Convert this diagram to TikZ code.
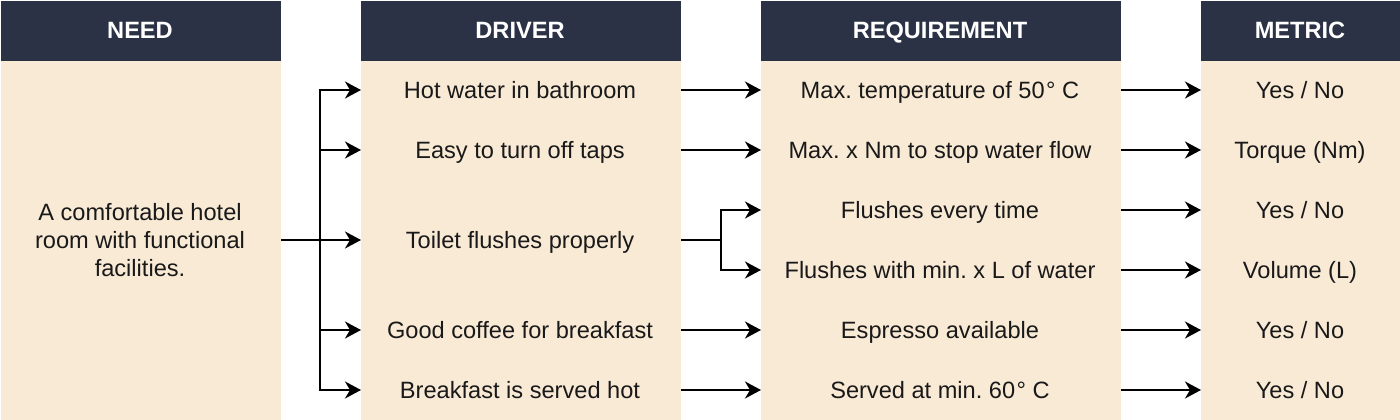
\documentclass[tikz,border=0pt]{standalone}
\usepackage{fontspec}
\setmainfont{Liberation Sans}
\usetikzlibrary{arrows.meta}
\definecolor{hdr}{HTML}{2B3245}
\definecolor{bodyc}{HTML}{F9EAD6}
\frenchspacing
\tikzset{
  hdrbox/.style={fill=hdr, draw=none, minimum height=60pt, inner sep=0pt},
  hdrtxt/.style={text=white, font=\fontsize{23.6}{28}\selectfont\bfseries, inner sep=0pt, anchor=base},
  lbl/.style={font=\fontsize{23.6}{28}\selectfont, text=black!90, inner sep=0pt, align=center, anchor=base},
  conn/.style={line width=2pt, -{Triangle[length=16pt,width=17pt,inset=5pt]}},
  plain/.style={line width=2pt}
}
\begin{document}
\begin{tikzpicture}[x=1pt,y=-1pt]
\useasboundingbox (0,0) rectangle (1400,420);
% column backgrounds
\fill[bodyc] (1,60) rectangle (281,420);
\fill[bodyc] (361,60) rectangle (681,420);
\fill[bodyc] (761,60) rectangle (1121,420);
\fill[bodyc] (1201,60) rectangle (1400,420);
% headers
\node[hdrbox, minimum width=280pt] (hN) at (141,31) {};
\node[hdrbox, minimum width=320pt] (hD) at (521,31) {};
\node[hdrbox, minimum width=360pt] (hR) at (941,31) {};
\node[hdrbox, minimum width=199pt] (hM) at (1300.5,31) {};
\node[hdrtxt] (tN) at (140,38.5) {NEED};
\node[hdrtxt] (tD) at (520,38.5) {DRIVER};
\node[hdrtxt] (tR) at (940,38.5) {REQUIREMENT};
\node[hdrtxt] (tM) at (1300,38.5) {METRIC};
% need
\node[lbl, anchor=north] (need) at (140,203) {A comfortable hotel\\room with functional\\facilities.};
\coordinate (needR) at (281,240);
\coordinate (spine) at (320,240);
% drivers
\node[lbl] (d1) at (520,98.4) {Hot water in bathroom};
\node[lbl] (d2) at (520,158.4) {Easy to turn off taps};
\node[lbl] (d3) at (520,248.4) {Toilet flushes properly};
\node[lbl] (d4) at (520,338.4) {Good coffee for breakfast};
\node[lbl] (d5) at (520,398.4) {Breakfast is served hot};
\coordinate (d1L) at (361,90);
\coordinate (d2L) at (361,150);
\coordinate (d3L) at (361,240);
\coordinate (d4L) at (361,330);
\coordinate (d5L) at (361,390);
\coordinate (d1R) at (681,90);
\coordinate (d2R) at (681,150);
\coordinate (d3R) at (681,240);
\coordinate (d4R) at (681,330);
\coordinate (d5R) at (681,390);
% requirements
\node[lbl] (r1) at (940,98.4) {Max. temperature of 50\kern1.5pt° C};
\node[lbl] (r2) at (940,158.4) {Max. x Nm to stop water flow};
\node[lbl] (r3) at (940,218.4) {Flushes every time};
\node[lbl] (r4) at (940,278.4) {Flushes with min. x L of water};
\node[lbl] (r5) at (940,338.4) {Espresso available};
\node[lbl] (r6) at (940,398.4) {Served at min. 60\kern1.5pt° C};
\foreach \i/\y in {1/90,2/150,3/210,4/270,5/330,6/390}{
  \coordinate (r\i L) at (761,\y);
  \coordinate (r\i R) at (1121,\y);
}
% metrics
\node[lbl] (m1) at (1300,98.4) {Yes / No};
\node[lbl] (m2) at (1300,158.4) {Torque (Nm)};
\node[lbl] (m3) at (1300,218.4) {Yes / No};
\node[lbl] (m4) at (1300,278.4) {Volume (L)};
\node[lbl] (m5) at (1300,338.4) {Yes / No};
\node[lbl] (m6) at (1300,398.4) {Yes / No};
\foreach \i/\y in {1/90,2/150,3/210,4/270,5/330,6/390}{
  \coordinate (m\i L) at (1201,\y);
}
% need -> drivers
\draw[plain] (needR) -- (spine);
\draw[conn] (spine) -- (d3L);
\draw[conn] (spine) |- (d1L);
\draw[conn] (spine) |- (d2L);
\draw[conn] (spine) |- (d4L);
\draw[conn] (spine) |- (d5L);
% drivers -> requirements
\draw[conn] (d1R) -- (r1L);
\draw[conn] (d2R) -- (r2L);
\coordinate (split) at (721,240);
\draw[plain] (d3R) -- (split);
\draw[conn] (split) |- (r3L);
\draw[conn] (split) |- (r4L);
\draw[conn] (d4R) -- (r5L);
\draw[conn] (d5R) -- (r6L);
% requirements -> metrics
\foreach \i in {1,...,6}{
  \draw[conn] (r\i R) -- (m\i L);
}
\end{tikzpicture}
\end{document}
